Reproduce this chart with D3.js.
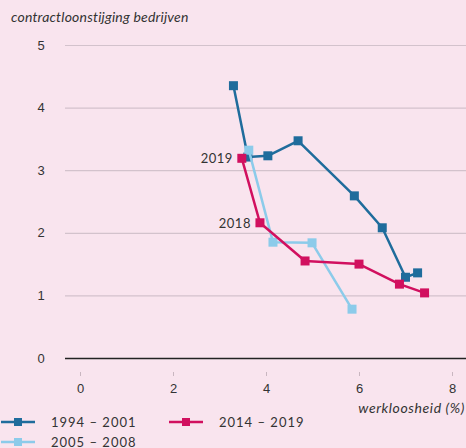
<!DOCTYPE html>
<html>
<head>
<meta charset="utf-8">
<script src="https://cdn.jsdelivr.net/npm/d3@7"></script>
<style>
  body { margin: 0; background: #f9e4ee; }
  svg { display: block; font-family: Lato, "Open Sans", sans-serif; }
  .tick text { fill: #333; font-size: 13px; }
</style>
</head>
<body>
<svg></svg>
<script>
var width = 466, height = 448;

// werkloosheid (%) / contractloonstijging, per period
var x1994 = [3.30, 3.61, 4.04, 4.69, 5.90, 6.50, 7.00, 7.26];
var y1994 = [4.35, 3.21, 3.23, 3.47, 2.59, 2.08, 1.29, 1.36];
var x2005 = [3.63, 4.15, 4.99, 5.85];
var y2005 = [3.32, 1.85, 1.84, 0.78];
var x2014 = [3.48, 3.87, 4.84, 6.00, 6.87, 7.41];
var y2014 = [3.19, 2.16, 1.55, 1.50, 1.18, 1.04];
var seriesNames = ['1994 – 2001', '2005 – 2008', '2014 – 2019'];
var seriesColors = ['#1f6c9c', '#8ccbea', '#d1105f'];
var xTicks = [0, 2, 4, 6, 8];
var yTicks = [0, 1, 2, 3, 4, 5];
var pointLabels = [{ s: 2, i: 0, text: '2019' }, { s: 2, i: 1, text: '2018' }];

var series = [
  { name: seriesNames[0], color: seriesColors[0], xs: x1994, ys: y1994 },
  { name: seriesNames[1], color: seriesColors[1], xs: x2005, ys: y2005 },
  { name: seriesNames[2], color: seriesColors[2], xs: x2014, ys: y2014 }
];

var svg = d3.select("svg")
  .attr("width", width)
  .attr("height", height);

var x = d3.scaleLinear().domain([0, 8]).range([80, 452]);
var y = d3.scaleLinear().domain([0, 5]).range([358, 45]);

// y title
svg.append("text")
  .attr("x", 11)
  .attr("y", 22)
  .style("font-style", "italic")
  .style("font-size", "14px")
  .style("letter-spacing", "0.2px")
  .style("fill", "#333")
  .text("contractloonstijging bedrijven");

// grid + y labels
var yAxis = svg.append("g")
  .attr("transform", "translate(65,0)")
  .call(d3.axisLeft(y).tickValues(yTicks).tickSize(-(width - 65)).tickFormat(d3.format("d")));
yAxis.select(".domain").remove();
yAxis.selectAll(".tick line")
  .attr("stroke", "#d3c2cc")
  .attr("stroke-width", 1.2);
yAxis.selectAll(".tick text")
  .attr("x", -24)
  .style("text-anchor", "middle");
yAxis.selectAll(".tick")
  .filter(function(d) { return d === 0; })
  .select("line")
  .attr("stroke", "#222")
  .attr("stroke-width", 1.5);

// x axis
var xAxis = svg.append("g")
  .attr("transform", "translate(0,372)")
  .call(d3.axisBottom(x).tickValues(xTicks).tickSize(4).tickPadding(8).tickFormat(d3.format("d")));
xAxis.select(".domain").remove();
xAxis.selectAll(".tick line").attr("stroke", "#c9b6c0");

svg.append("text")
  .attr("x", 465)
  .attr("y", 413)
  .attr("text-anchor", "end")
  .style("font-style", "italic")
  .style("font-size", "14px")
  .style("letter-spacing", "0.6px")
  .style("fill", "#333")
  .text("werkloosheid (%)");

var line = d3.line()
  .x(function(d) { return x(d[0]); })
  .y(function(d) { return y(d[1]); });

series.forEach(function(s) {
  var pts = d3.zip(s.xs, s.ys);
  var g = svg.append("g");
  g.append("path")
    .datum(pts)
    .attr("fill", "none")
    .attr("stroke", s.color)
    .attr("stroke-width", 2.5)
    .attr("stroke-linejoin", "round")
    .attr("d", line);
  g.selectAll("rect")
    .data(pts)
    .enter().append("rect")
    .attr("x", function(d) { return x(d[0]) - 4.5; })
    .attr("y", function(d) { return y(d[1]) - 4.5; })
    .attr("width", 9)
    .attr("height", 9)
    .attr("fill", s.color);
});

pointLabels.forEach(function(p) {
  var s = series[p.s];
  svg.append("text")
    .attr("x", x(s.xs[p.i]) - 9)
    .attr("y", y(s.ys[p.i]) + 5)
    .attr("text-anchor", "end")
    .style("font-size", "13px")
    .style("letter-spacing", "0.5px")
    .style("fill", "#333")
    .text(p.text);
});

// legend
var legendPos = [[0, 422], [0, 442], [168, 422]];
series.forEach(function(s, i) {
  var g = svg.append("g")
    .attr("transform", "translate(" + legendPos[i][0] + "," + legendPos[i][1] + ")");
  g.append("line")
    .attr("x1", 1).attr("x2", 35)
    .attr("stroke", s.color)
    .attr("stroke-width", 2.5);
  g.append("rect")
    .attr("x", 14).attr("y", -4)
    .attr("width", 8).attr("height", 8)
    .attr("fill", s.color);
  g.append("text")
    .attr("x", 51)
    .attr("y", 5)
    .style("font-size", "13px")
    .style("letter-spacing", "1px")
    .style("fill", "#333")
    .text(s.name);
});
</script>
</body>
</html>
